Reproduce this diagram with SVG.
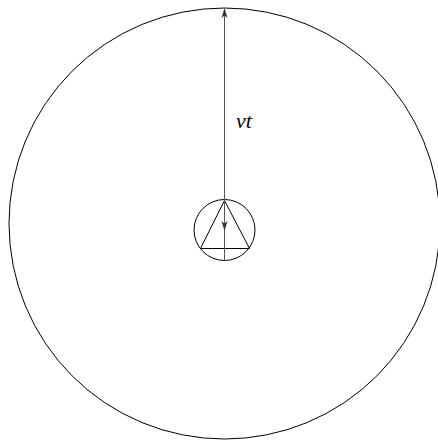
<svg xmlns="http://www.w3.org/2000/svg" width="438" height="440" viewBox="0 0 438 440">
<style>
.s{fill:none;stroke:#000;stroke-width:1}
.a{fill:none;stroke:#555;stroke-width:1}
.t{font-style:italic;font-size:22px;fill:#000}
</style>
<rect width="438" height="440" fill="#fff"/>
<g id="outer"><circle class="s" cx="224.5" cy="223.5" r="215.5"/></g>
<g id="sensor">
<circle class="s" cx="224.5" cy="230" r="30.5"/>
<polygon class="s" points="224.5,200.5 200.5,248.5 249.5,248.5"/>
</g>
<g id="connectors">
<line class="a" x1="224.5" y1="9" x2="224.5" y2="261"/>
<path d="M224.5,8 L221.5,18 L224.5,15.5 L227.5,18 Z" fill="#333"/>
<path d="M224.5,231 L221.5,221 L224.5,223.5 L227.5,221 Z" fill="#333"/>
</g>
<g id="label"><text class="t" font-family="'Liberation Serif','Times New Roman','DejaVu Serif',serif" x="236" y="128">vt</text></g>
</svg>
